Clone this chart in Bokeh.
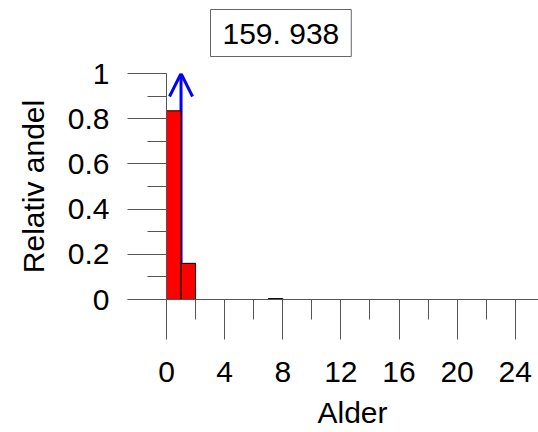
from bokeh.plotting import figure
from bokeh.models import (FixedTicker, Arrow, OpenHead, Title, CustomJSTickFormatter, Range1d)
from bokeh.embed import file_html
from bokeh.resources import INLINE

# ---- data ----
age_left = list(range(0, 25))
rel_share = [0.835, 0.16, 0.0, 0.0, 0.0, 0.0, 0.0, 0.004, 0.0, 0.0,
             0.0, 0.0, 0.0, 0.0, 0.0, 0.0, 0.0, 0.0, 0.0, 0.0,
             0.0, 0.0, 0.0, 0.0, 0.0]
mean_age = 1.0
box_text = "159. 938"
x_major = [0, 4, 8, 12, 16, 20, 24]
x_minor = [2, 6, 10, 14, 18, 22]
y_major = [0, 0.2, 0.4, 0.6, 0.8, 1.0]
y_minor = [0.1, 0.3, 0.5, 0.7, 0.9]

FONT = "Liberation Sans"
FS = "30px"
AX = "#555555"

title = Title(text=box_text, align="left", offset=44, standoff=0,
              text_font=FONT, text_font_size=FS, text_font_style="normal",
              text_color="black", border_line_color="#666666", border_line_width=1,
              background_fill_color="white",
              padding=dict(left=12, right=12, top=7, bottom=7))

p = figure(width=538, height=432, output_backend="svg", toolbar_location=None,
           x_range=Range1d(0, 25.6), y_range=Range1d(0, 1),
           min_border_left=166, min_border_right=0, min_border_top=73,
           min_border_bottom=133, outline_line_color=None,
           background_fill_color="white", border_fill_color="white",
           title=title)
p.xgrid.visible = False
p.ygrid.visible = False

# empty spacer between the boxed label and the plot area
spacer = Title(text=" ", text_font=FONT, text_font_size="13px", standoff=0)
p.add_layout(spacer, "above")

# arrow under the bars
arrow = Arrow(end=OpenHead(size=23, line_color="blue", line_width=3),
              x_start=mean_age, y_start=0, x_end=mean_age, y_end=1,
              line_color="blue", line_width=3, level="underlay")
p.add_layout(arrow)

# bars
lefts = [a for a, v in zip(age_left, rel_share) if v > 0]
tops = [v for v in rel_share if v > 0]
rights = [a + 1 for a in lefts]
p.quad(left=lefts, right=rights, bottom=0, top=tops,
       fill_color="#ff0000", line_color="black", line_width=1)

# axes
xa = p.xaxis[0]
ya = p.yaxis[0]
xa.ticker = FixedTicker(ticks=x_major, minor_ticks=x_minor)
ya.ticker = FixedTicker(ticks=y_major, minor_ticks=y_minor)
ya.formatter = CustomJSTickFormatter(code="return (Math.round(tick*10)/10).toString();")
ya.bounds = (0, 1)
for ax in (xa, ya):
    ax.axis_line_color = AX
    ax.major_tick_line_color = AX
    ax.minor_tick_line_color = AX
    ax.major_tick_in = 0
    ax.minor_tick_in = 0
    ax.major_label_text_font = FONT
    ax.major_label_text_font_size = FS
    ax.major_label_text_color = "black"
    ax.axis_label_text_font = FONT
    ax.axis_label_text_font_size = FS
    ax.axis_label_text_font_style = "normal"
    ax.axis_label_text_color = "black"
xa.major_tick_out = 40
xa.minor_tick_out = 20
xa.major_label_standoff = 22
xa.axis_label = "Alder"
xa.axis_label_standoff = 11
ya.major_tick_out = 39
ya.minor_tick_out = 19
ya.major_label_standoff = 18
ya.axis_label = "Relativ andel"
ya.axis_label_standoff = 15

open("out.html", "w").write(file_html(p, INLINE))
